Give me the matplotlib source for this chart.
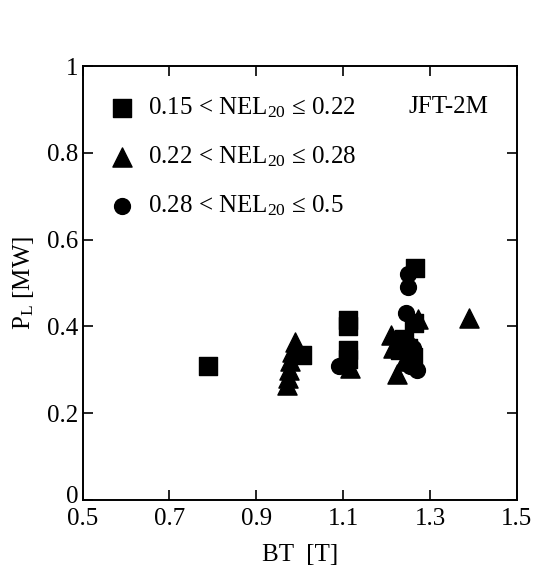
import matplotlib
matplotlib.use("Agg")
import matplotlib.pyplot as plt
import matplotlib.transforms as mtransforms

plt.rcParams['font.family'] = 'Liberation Serif'
plt.rcParams['mathtext.fontset'] = 'custom'
plt.rcParams['mathtext.rm'] = 'Liberation Serif'
plt.rcParams['mathtext.it'] = 'Liberation Serif:italic'

# NEL20 groups
sq_bt = [0.79, 1.005, 1.11, 1.11, 1.11, 1.11, 1.265, 1.262, 1.24, 1.25, 1.23, 1.26]
sq_p = [0.31, 0.335, 0.415, 0.40, 0.345, 0.325, 0.535, 0.408, 0.37, 0.35, 0.345, 0.33]

tri_bt = [0.99, 0.983, 0.978, 0.975, 0.972, 0.97, 1.115, 1.272, 1.21, 1.215, 1.225, 1.24, 1.39]
tri_p = [0.365, 0.342, 0.32, 0.30, 0.282, 0.265, 0.305, 0.417, 0.38, 0.35, 0.29, 0.32, 0.42]

cir_bt = [1.25, 1.25, 1.245, 1.09, 1.27, 1.255, 1.25, 1.26]
cir_p = [0.52, 0.49, 0.43, 0.31, 0.30, 0.31, 0.36, 0.35]

labels = [r'0.15 < NEL$_{20}$ ≤ 0.22',
          r'0.22 < NEL$_{20}$ ≤ 0.28',
          r'0.28 < NEL$_{20}$ ≤ 0.5']

xticks = [0.5, 0.7, 0.9, 1.1, 1.3, 1.5]
yticks = [0, 0.2, 0.4, 0.6, 0.8, 1]
ytick_labels = ['0', '0.2', '0.4', '0.6', '0.8', '1']

fig = plt.figure(figsize=(5.41, 5.65), dpi=100)
ax = fig.add_axes([0.1525, 0.115, 0.803, 0.768])

ax.scatter(sq_bt, sq_p, marker='s', s=160, color='black', label=labels[0], zorder=3)
ax.scatter(tri_bt, tri_p, marker='^', s=190, color='black', label=labels[1], zorder=3)
ax.scatter(cir_bt, cir_p, marker='o', s=130, color='black', label=labels[2], zorder=3)

ax.set_xlim(0.5, 1.5)
ax.set_ylim(0, 1)
ax.set_xticks(xticks)
ax.set_xticklabels([str(t) for t in xticks])
ax.set_yticks(yticks)
ax.set_yticklabels(ytick_labels)
ax.tick_params(direction='in', length=7, width=1.2, top=True, right=True,
               labelsize=18)
ax.tick_params(axis='x', pad=6)
ax.tick_params(axis='y', pad=3)
for sp in ax.spines.values():
    sp.set_linewidth(1.4)

# nudge the "0" up a bit so it sits above the "0.5"
lab0 = ax.get_yticklabels()[0]
lab0.set_transform(lab0.get_transform() +
                   mtransforms.ScaledTranslation(0, 4 / 72, fig.dpi_scale_trans))

ax.set_xlabel('BT  [T]', fontsize=18, labelpad=10)
ax.set_ylabel(r'P$_{\mathrm{L}}$ [MW]', fontsize=18, labelpad=8)

ax.legend(loc='upper left', bbox_to_anchor=(0.05, 0.933), frameon=False,
          fontsize=18, handlelength=1.4, handletextpad=0.34, labelspacing=0.98,
          borderaxespad=0, borderpad=0, scatterpoints=1)

ax.text(1.25, 0.906, 'JFT-2M', fontsize=18, va='center', ha='left')

fig.savefig('out.png', dpi=100)
